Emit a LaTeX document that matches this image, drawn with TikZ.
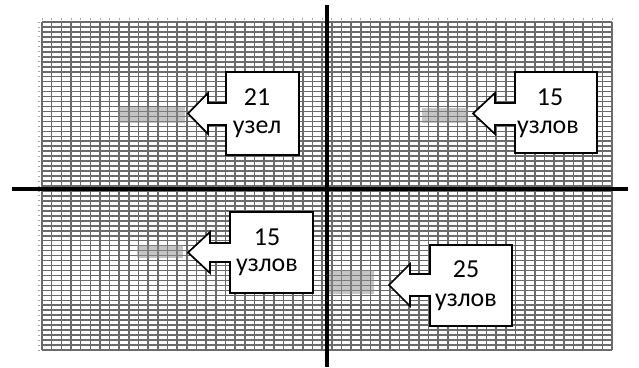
\documentclass[tikz,border=0pt]{standalone}
\usepackage{fontspec}
\setmainfont{Carlito}
\begin{document}
\begin{tikzpicture}[x=1bp,y=-1bp,
  gridline/.style={draw=black!58, line width=1.6bp},
  gridtick/.style={draw=black!35, line width=0.9bp},
  axis/.style={draw=black, line width=3.4bp},
  callout/.style={draw=black, fill=white, line width=1.7bp, line join=miter},
  spot/.style={fill=black!45, opacity=0.5},
  lbl/.style={font=\fontsize{26}{30}\selectfont, inner sep=0pt}]
\useasboundingbox (0,0) rectangle (639,367);
\fill[white] (0,0) rectangle (639,367);

% mesh: 59 columns x 66 rows
\foreach \i in {0,...,59} {
  \pgfmathsetmacro{\xx}{42+\i*9.661}
  \draw[gridline] (\xx,22) -- (\xx,350);
  \draw[gridtick] (\xx,17.5) -- (\xx,19.5);
}
\foreach \j in {0,...,66} {
  \pgfmathsetmacro{\yy}{22+\j*4.9697}
  \draw[gridline] (42,\yy) -- (612,\yy);
  \draw[gridtick] (37.5,\yy) -- (39.5,\yy);
}

% highlighted mesh regions
\fill[spot] (118,107) rectangle (185,123);
\fill[spot] (422,108) rectangle (468,123);
\fill[spot] (137,245) rectangle (183,258);
\fill[spot] (328,270) rectangle (374,294);

% axes
\coordinate (hl) at (12,189);
\coordinate (hr) at (628,189);
\coordinate (vt) at (327,5);
\coordinate (vb) at (327,367);
\draw[axis] (hl) -- (hr);
\draw[axis] (vt) -- (vb);

% arrow callouts
\draw[callout] (226,72) -- (299,72) -- (299,155) -- (226,155) -- (226,125)
  -- (208,125) -- (208,134) -- (188,113.5) -- (208,93) -- (208,103) -- (226,103) -- cycle;
\draw[callout] (515,72) -- (597,72) -- (597,153) -- (515,153) -- (515,125)
  -- (495,125) -- (495,134) -- (473,113.5) -- (495,93) -- (495,103) -- (515,103) -- cycle;
\draw[callout] (230,212) -- (313,212) -- (313,293) -- (230,293) -- (230,262)
  -- (210,262) -- (210,273) -- (188,252.5) -- (210,232) -- (210,243) -- (230,243) -- cycle;
\draw[callout] (430,245) -- (512,245) -- (512,326) -- (430,326) -- (430,296)
  -- (410,296) -- (410,306) -- (389,285) -- (410,264) -- (410,274) -- (430,274) -- cycle;

% labels
\node[lbl] (n1) at (257,97) {21};
\node[lbl] (u1) at (257,129) {узел};
\node[lbl] (n2) at (550,97) {15};
\node[lbl] (u2) at (548,129) {узлов};
\node[lbl] (n3) at (267,237) {15};
\node[lbl] (u3) at (267,267) {узлов};
\node[lbl] (n4) at (466,269) {25};
\node[lbl] (u4) at (466,302) {узлов};
\end{tikzpicture}
\end{document}
